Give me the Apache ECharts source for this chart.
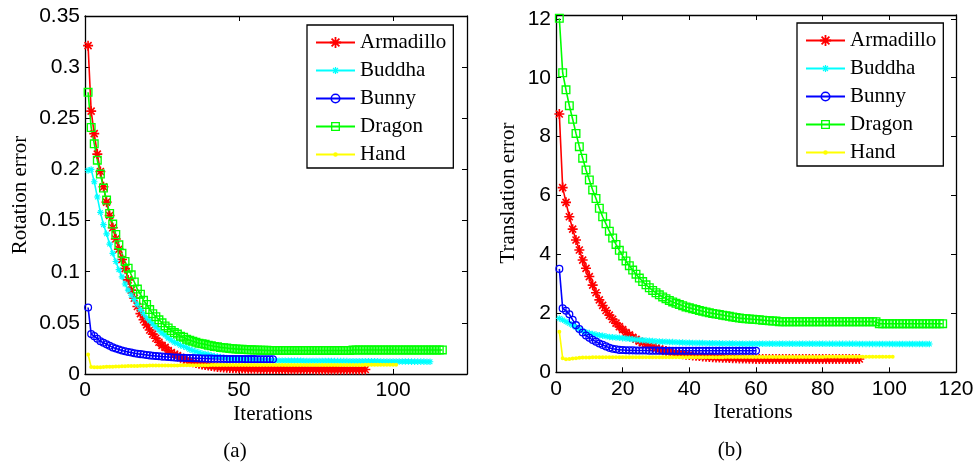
<!DOCTYPE html>
<html><head><meta charset="utf-8">
<script src="https://cdn.jsdelivr.net/npm/echarts/dist/echarts.min.js"></script>
<style>html,body{margin:0;padding:0;background:#fff}#c{width:975px;height:464px}</style>
</head><body><div id="c"></div>
<script>
const names = ['Armadillo','Buddha','Bunny','Dragon','Hand'];

// (a) Rotation error, iteration 1..N
const rotArmadillo = [0.321,0.257,0.235,0.215,0.198,0.183,0.168,0.155,0.143,0.132,
0.122,0.112,0.103,0.092,0.082,0.074,0.066,0.059,0.053,0.048,
0.043,0.039,0.035,0.031,0.028,0.026,0.023,0.021,0.019,0.018,
0.016,0.015,0.0135,0.0125,0.0115,0.0107,0.0099,0.0093,0.0087,0.0082,
0.0077,0.0073,0.0069,0.0066,0.0063,0.0061,0.0059,0.0057,0.0056,0.0055,
0.0054,0.0053,0.0052,0.0052,0.0051,0.0051,0.005,0.005,0.005,0.005,
0.0049,0.0049,0.0048,0.0048,0.0048,0.0047,0.0047,0.0047,0.0047,0.0046,
0.0046,0.0046,0.0046,0.0046,0.0045,0.0045,0.0045,0.0045,0.0045,0.0045,
0.0045,0.0044,0.0044,0.0044,0.0044,0.0044,0.0044,0.0044,0.0044,0.0044,
0.0044];
const rotBuddha = [0.199,0.200,0.188,0.173,0.158,0.146,0.137,0.127,0.118,0.110,
0.102,0.095,0.088,0.082,0.077,0.073,0.068,0.063,0.059,0.055,
0.052,0.049,0.046,0.043,0.040,0.038,0.035,0.033,0.031,0.030,
0.028,0.027,0.026,0.024,0.023,0.022,0.021,0.020,0.0195,0.019,
0.018,0.0175,0.017,0.0165,0.016,0.0157,0.0154,0.0151,0.0148,0.0146,
0.0144,0.0142,0.014,0.0138,0.0137,0.0136,0.0135,0.0134,0.0133,0.0132,
0.0131,0.0131,0.013,0.013,0.013,0.013,0.0129,0.0129,0.0129,0.0129,
0.0128,0.0128,0.0128,0.0128,0.0128,0.0127,0.0127,0.0127,0.0127,0.0127,
0.0126,0.0126,0.0126,0.0126,0.0126,0.0125,0.0125,0.0125,0.0125,0.0125,
0.0124,0.0124,0.0124,0.0124,0.0124,0.0123,0.0123,0.0123,0.0123,0.0123,
0.0122,0.0122,0.0122,0.0122,0.0122,0.0121,0.0121,0.0121,0.0121,0.0121,
0.012,0.012];
const rotBunny = [0.065,0.039,0.037,0.0345,0.032,0.0305,0.029,0.0275,0.026,0.025,
0.024,0.023,0.0222,0.0215,0.021,0.0203,0.0198,0.0194,0.019,0.0186,
0.0182,0.0179,0.0176,0.0173,0.017,0.0168,0.0166,0.0164,0.0162,0.016,
0.0159,0.0158,0.0157,0.0156,0.0155,0.0154,0.0153,0.0152,0.0151,0.015,
0.015,0.0149,0.0149,0.0148,0.0148,0.0147,0.0147,0.0147,0.0146,0.0146,
0.0146,0.0145,0.0145,0.0145,0.0145,0.0144,0.0144,0.0144,0.0144,0.0144,
0.0144];
const rotDragon = [0.2754,0.241,0.225,0.209,0.1955,0.1818,0.170,0.157,0.1466,0.1364,
0.1263,0.118,0.110,0.1035,0.097,0.090,0.083,0.078,0.072,0.068,
0.063,0.059,0.056,0.053,0.050,0.047,0.045,0.0425,0.0405,0.039,
0.037,0.036,0.034,0.033,0.032,0.031,0.030,0.0295,0.029,0.028,
0.0276,0.027,0.0266,0.026,0.0257,0.0254,0.025,0.0248,0.0245,0.0243,
0.0241,0.0239,0.0237,0.0236,0.0235,0.0234,0.0233,0.0232,0.0231,0.023,
0.023,0.023,0.023,0.023,0.023,0.023,0.023,0.023,0.023,0.023,
0.023,0.023,0.023,0.023,0.023,0.023,0.023,0.023,0.023,0.023,
0.023,0.023,0.023,0.023,0.023,0.023,
0.0235,0.0235,0.0235,0.0235,0.0235,0.0235,0.0235,0.0235,0.0235,0.0235,
0.0235,0.0235,0.0235,0.0235,0.0235,0.0235,0.0235,0.0235,0.0235,0.0235,
0.0235,0.0235,0.0235,0.0235,0.0235,0.0235,0.0235,0.0235,0.0235,0.0235];
const rotHand = [0.019,0.0068,0.0065,0.0066,0.0067,0.0069,0.007,0.0071,0.0072,0.0073,
0.0074,0.0075,0.0076,0.0077,0.0078,0.0078,0.0079,0.008,0.008,0.0081,
0.0082,0.0082,0.0082,0.0083,0.0083,0.0083,0.0084,0.0084,0.0084,0.0084,
0.0085,0.0085,0.0085,0.0085,0.0085,0.0086,0.0086,0.0086,0.0086,0.0086,
0.0087,0.0087,0.0087,0.0087,0.0087,0.0087,0.0087,0.0087,0.0087,0.0087,
0.0088,0.0088,0.0088,0.0088,0.0088,0.0088,0.0088,0.0088,0.0088,0.0088,
0.0088,0.0088,0.0088,0.0088,0.0088,0.0088,0.0088,0.0088,0.0088,0.0088,
0.0089,0.0089,0.0089,0.0089,0.0089,0.0089,0.0089,0.0089,0.0089,0.0089,
0.0089,0.0089,0.0089,0.0089,0.0089,0.0089,0.0089,0.0089,0.0089,0.0089,
0.009,0.009,0.009,0.009,0.009,0.009,0.009,0.009,0.009,0.009,
0.009];

// (b) Translation error, iteration 1..N
const trArmadillo = [8.77,6.27,5.77,5.28,4.86,4.49,4.15,3.81,3.53,3.25,
2.96,2.70,2.46,2.27,2.10,1.94,1.80,1.67,1.55,1.45,
1.35,1.27,1.19,1.12,1.06,1.00,0.95,0.90,0.86,0.82,
0.78,0.75,0.72,0.70,0.67,0.65,0.63,0.615,0.60,0.585,
0.57,0.56,0.55,0.54,0.53,0.52,0.51,0.505,0.50,0.495,
0.49,0.485,0.48,0.475,0.47,0.47,0.465,0.46,0.46,0.455,
0.455,0.45,0.45,0.45,0.45,0.45,0.45,0.45,0.45,0.45,
0.45,0.45,0.45,0.45,0.45,0.45,0.45,0.45,0.45,0.45,
0.45,0.45,0.45,0.45,0.45,0.45,0.45,0.45,0.45,0.45,
0.45];
const trBuddha = [1.83,1.78,1.72,1.66,1.60,1.53,1.46,1.40,1.36,1.33,
1.30,1.28,1.26,1.24,1.22,1.20,1.19,1.18,1.17,1.16,
1.15,1.14,1.12,1.11,1.10,1.09,1.08,1.07,1.06,1.05,
1.045,1.04,1.035,1.03,1.025,1.02,1.015,1.01,1.005,1.0,
0.998,0.996,0.994,0.992,0.99,0.988,0.986,0.984,0.982,0.98,
0.978,0.976,0.975,0.974,0.973,0.972,0.971,0.97,0.97,0.97,
0.97,0.97,0.97,0.97,0.97,0.97,0.97,0.97,0.97,0.97,
0.968,0.968,0.968,0.968,0.968,0.968,0.968,0.968,0.968,0.968,
0.966,0.966,0.966,0.966,0.966,0.966,0.966,0.966,0.966,0.966,
0.964,0.964,0.964,0.964,0.964,0.964,0.964,0.964,0.964,0.964,
0.962,0.962,0.962,0.962,0.962,0.962,0.962,0.962,0.962,0.962,
0.96,0.96];
const trBunny = [3.51,2.17,2.09,1.97,1.78,1.60,1.47,1.35,1.25,1.17,
1.10,1.04,0.98,0.93,0.88,0.83,0.80,0.78,0.76,0.755,
0.75,0.745,0.745,0.74,0.74,0.74,0.74,0.735,0.735,0.735,
0.735,0.73,0.73,0.73,0.73,0.73,0.73,0.73,0.73,0.73,
0.73,0.73,0.73,0.73,0.73,0.73,0.73,0.73,0.73,0.73,
0.73,0.73,0.73,0.73,0.73,0.73,0.73,0.73,0.73,0.73];
const trDragon = [12.02,10.17,9.59,9.05,8.59,8.11,7.66,7.27,6.87,6.53,
6.19,5.90,5.57,5.28,5.04,4.79,4.56,4.34,4.14,3.95,
3.78,3.62,3.47,3.33,3.20,3.08,2.97,2.87,2.78,2.70,
2.63,2.56,2.50,2.44,2.39,2.34,2.30,2.26,2.22,2.19,
2.16,2.13,2.10,2.07,2.05,2.02,2.00,1.98,1.96,1.94,
1.92,1.90,1.88,1.86,1.84,1.83,1.82,1.81,1.80,1.79,
1.78,1.77,1.76,1.75,1.74,1.74,
1.72,1.72,1.72,1.72,1.72,1.72,1.72,1.72,1.72,1.72,
1.72,1.72,1.72,1.72,1.72,1.72,1.72,1.72,1.72,1.72,
1.72,1.72,1.72,1.72,1.72,1.72,1.72,1.72,1.72,1.72,
1.65,1.65,1.65,1.65,1.65,1.65,1.65,1.65,1.65,1.65,
1.65,1.65,1.65,1.65,1.65,1.65,1.65,1.65,1.65,1.65];
const trHand = [1.38,0.48,0.44,0.45,0.47,0.48,0.49,0.50,0.50,0.505,
0.51,0.51,0.51,0.51,0.51,0.51,0.51,0.51,0.51,0.51,
0.51,0.51,0.51,0.51,0.51,0.51,0.51,0.51,0.51,0.51,
0.515,0.515,0.515,0.515,0.515,0.515,0.515,0.515,0.515,0.515,
0.515,0.515,0.515,0.515,0.515,0.515,0.515,0.515,0.515,0.515,
0.52,0.52,0.52,0.52,0.52,0.52,0.52,0.52,0.52,0.52,
0.52,0.52,0.52,0.52,0.52,0.52,0.52,0.52,0.52,0.52,
0.52,0.52,0.52,0.52,0.52,0.52,0.52,0.52,0.52,0.52,
0.525,0.525,0.525,0.525,0.525,0.525,0.525,0.525,0.525,0.525,
0.525,0.525,0.525,0.525,0.525,0.525,0.525,0.525,0.525,0.525,
0.525];

const rotY = {min: 0, max: 0.35, interval: 0.05};
const rotX = {min: 0, max: 124, interval: 50};
const trY = {min: 0, max: 12.13, interval: 2};
const trX = {min: 0, max: 120, interval: 20};

const colors = ['#ff0000','#00ffff','#0000ff','#00ff00','#ffff00'];
// corner specks fix every symbol's box to [-10,10] so the legend icons keep the relative sizes
const BOX = ' M-10,-10L-9.98,-10L-9.98,-9.98Z M10,10L9.98,10L9.98,9.98Z';
const STAR = 'path://M-1.6,-10L1.6,-10L1.6,10L-1.6,10Z M-10,-1.6L10,-1.6L10,1.6L-10,1.6Z M-5.87,-8.13L8.13,5.87L5.87,8.13L-8.13,-5.87Z M8.13,-5.87L-5.87,8.13L-8.13,5.87L5.87,-8.13Z';
const STAR_S = 'path://M-1.1,-6.2L1.1,-6.2L1.1,6.2L-1.1,6.2Z M-6.2,-1.1L6.2,-1.1L6.2,1.1L-6.2,1.1Z M-3.62,-5.18L5.18,3.62L3.62,5.18L-5.18,-3.62Z M5.18,-3.62L-3.62,5.18L-5.18,3.62L3.62,-5.18Z' + BOX;
const RING = 'path://M9,0A9,9,0,1,1,-9,0A9,9,0,1,1,9,0Z M6.2,0A6.2,6.2,0,1,0,-6.2,0A6.2,6.2,0,1,0,6.2,0Z' + BOX;
const SQ = 'path://M-8,-8L8,-8L8,8L-8,8Z M-5.6,-5.6L-5.6,5.6L5.6,5.6L5.6,-5.6Z' + BOX;
const DOT = 'path://M4,0A4,4,0,1,1,-4,0A4,4,0,1,1,4,0Z' + BOX;
const symbols = [STAR, STAR_S, RING, SQ, DOT];
const sizes = [10, 10.5, 9, 11.25, 10];

function mk(arr, i, g) {
  return {
    name: names[i], type: 'line', xAxisIndex: g, yAxisIndex: g,
    data: arr.map((v, k) => [k + 1, v]),
    symbol: symbols[i], symbolSize: sizes[i], showAllSymbol: true,
    lineStyle: {color: colors[i], width: 1.6},
    itemStyle: {color: colors[i]},
    emphasis: {disabled: true}, silent: true
  };
}

const lab = {color: '#000', fontFamily: 'Liberation Sans', fontSize: 21};
const axLine = {show: true, onZero: false, lineStyle: {color: '#000', width: 1.3}};
const tick = {show: true, inside: true, length: 5, lineStyle: {color: '#000', width: 1}};

function xax(g, r, pos, showLab, hideMax) {
  return Object.assign({type: 'value', gridIndex: g, position: pos, axisLine: axLine, axisTick: tick,
    splitLine: {show: false},
    axisLabel: Object.assign({show: showLab, margin: 6, showMaxLabel: !hideMax}, lab)}, r);
}
function yax(g, r, pos, showLab, hideMax) {
  return Object.assign({type: 'value', gridIndex: g, position: pos, axisLine: axLine, axisTick: tick,
    splitLine: {show: false},
    axisLabel: Object.assign({show: showLab, margin: 5, showMaxLabel: !hideMax}, lab)}, r);
}

const legendBase = {
  data: names, orient: 'vertical', itemWidth: 39, itemHeight: 14, itemGap: 7,
  padding: [7, 7, 3, 8], borderColor: '#000', borderWidth: 1.3, backgroundColor: '#fff',
  textStyle: {fontFamily: 'Liberation Serif', fontSize: 21, color: '#000'},
  selectedMode: false, itemStyle: {borderWidth: 0}
};

const serifFont = '21px "Liberation Serif"';
function txt(text, x, y, rot) {
  return {type: 'text', x: x, y: y, rotation: rot || 0, silent: true,
    style: {text: text, font: serifFont, fill: '#000', textAlign: 'center', textVerticalAlign: 'middle'}};
}

const chart = echarts.init(document.getElementById('c'), null, {renderer: 'canvas'});
chart.setOption({
  animation: false,
  backgroundColor: '#fff',
  grid: [
    {left: 85, top: 16, width: 382, height: 358, containLabel: false, outerBoundsMode: 'none'},
    {left: 556, top: 15, width: 400, height: 357.3, containLabel: false, outerBoundsMode: 'none'}
  ],
  xAxis: [
    xax(0, rotX, 'bottom', true, true),
    xax(1, trX, 'bottom', true, false),
    xax(0, rotX, 'top', false, true),
    xax(1, trX, 'top', false, false)
  ],
  yAxis: [
    yax(0, rotY, 'left', true, false),
    yax(1, trY, 'left', true, true),
    yax(0, rotY, 'right', false, false),
    yax(1, trY, 'right', false, true)
  ],
  legend: [
    Object.assign({left: 307, top: 25}, legendBase),
    Object.assign({left: 797, top: 23}, legendBase)
  ],
  graphic: [
    txt('Rotation error', 20.5, 195, Math.PI / 2),
    txt('Translation error', 508.5, 193, Math.PI / 2),
    txt('Iterations', 273, 414),
    txt('Iterations', 753, 412),
    txt('(a)', 235, 451),
    txt('(b)', 730, 450)
  ],
  series: [
    mk(rotArmadillo, 0, 0), mk(rotBuddha, 1, 0), mk(rotBunny, 2, 0), mk(rotDragon, 3, 0), mk(rotHand, 4, 0),
    mk(trArmadillo, 0, 1), mk(trBuddha, 1, 1), mk(trBunny, 2, 1), mk(trDragon, 3, 1), mk(trHand, 4, 1)
  ]
});
</script>
</body></html>
